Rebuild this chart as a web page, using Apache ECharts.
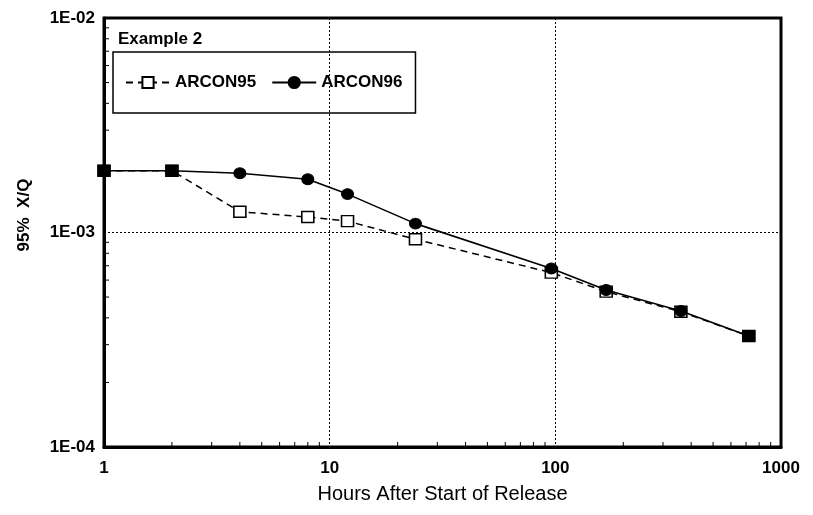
<!DOCTYPE html>
<html>
<head>
<meta charset="utf-8">
<script src="https://cdn.jsdelivr.net/npm/echarts@6/dist/echarts.min.js"></script>
<style>
html,body{margin:0;padding:0;background:#fff;}
#c{width:813px;height:515px;}
</style>
</head>
<body>
<div id="c"></div>
<script>
const hours = [1, 2, 4, 8, 12, 24, 96, 168, 360, 720];
const arcon95 = [1.94e-3, 1.94e-3, 1.25e-3, 1.18e-3, 1.13e-3, 9.3e-4, 6.5e-4, 5.3e-4, 4.27e-4, 3.29e-4];
const arcon96 = [1.94e-3, 1.94e-3, 1.89e-3, 1.77e-3, 1.51e-3, 1.10e-3, 6.8e-4, 5.39e-4, 4.31e-4, 3.29e-4];
const seriesNames = ['ARCON95', 'ARCON96'];
const xTickLabels = ['1', '10', '100', '1000'];
const yTickLabels = ['1E-04', '1E-03', '1E-02'];
const xMinorTicks = [2,3,4,5,6,7,8,9,20,30,40,50,60,70,80,90,200,300,400,500,600,700,800,900];
const yMinorTicks = [2e-4,3e-4,4e-4,5e-4,6e-4,7e-4,8e-4,9e-4,2e-3,3e-3,4e-3,5e-3,6e-3,7e-3,8e-3,9e-3];

const FONT = '"Liberation Sans", Arial, Helvetica, sans-serif';
const chart = echarts.init(document.getElementById('c'), null, {renderer: 'canvas'});

function tickRender(dir) {
  return function (params, api) {
    const p = api.coord([api.value(0), api.value(1)]);
    const shape = dir === 'x'
      ? {x1: p[0], y1: p[1], x2: p[0], y2: p[1] - 5}
      : {x1: p[0], y1: p[1], x2: p[0] + 5, y2: p[1]};
    return {type: 'line', shape: shape, style: {stroke: '#000', lineWidth: 1}};
  };
}

const option = {
  backgroundColor: '#fff',
  animation: false,
  title: {
    text: 'Example 2',
    left: 118, top: 31,
    padding: 0,
    textStyle: {fontFamily: FONT, fontWeight: 'bold', fontSize: 17, color: '#000'}
  },
  legend: {
    data: seriesNames,
    left: 113, top: 52,
    orient: 'horizontal',
    padding: [22, 13, 22, 12],
    itemWidth: 44, itemHeight: 14, itemGap: 15,
    borderColor: '#000', borderWidth: 1.5,
    textStyle: {fontFamily: FONT, fontWeight: 'bold', fontSize: 17, color: '#000'}
  },
  grid: {
    left: 104, right: 32, top: 18, bottom: 68,
    show: true, borderColor: '#000', borderWidth: 3,
    containLabel: false
  },
  graphic: [{
    type: 'text',
    x: 24, y: 215,
    rotation: Math.PI / 2,
    style: {
      text: '95%  X/Q',
      font: 'bold 17px ' + FONT,
      fill: '#000',
      align: 'center',
      verticalAlign: 'middle'
    }
  }],
  xAxis: {
    type: 'log', logBase: 10, min: 1, max: 1000,
    name: 'Hours After Start of Release',
    nameLocation: 'middle', nameGap: 37,
    nameTextStyle: {fontFamily: FONT, fontSize: 20, color: '#000'},
    axisLine: {show: true, lineStyle: {color: '#000', width: 3}},
    axisTick: {show: false},
    axisLabel: {
      margin: 13, color: '#000', fontFamily: FONT, fontSize: 17, fontWeight: 'bold',
      formatter: function (v) { return xTickLabels[Math.round(Math.log10(v))]; }
    },
    splitLine: {show: true, lineStyle: {color: '#000', width: 1, type: [2, 2]}},
    minorTick: {show: false}
  },
  yAxis: {
    type: 'log', logBase: 10, min: 1e-4, max: 1e-2,
    axisLine: {show: true, lineStyle: {color: '#000', width: 3}},
    axisTick: {show: false},
    axisLabel: {
      margin: 9, color: '#000', fontFamily: FONT, fontSize: 17, fontWeight: 'bold',
      formatter: function (v) { return yTickLabels[Math.round(Math.log10(v)) + 4]; }
    },
    splitLine: {show: true, lineStyle: {color: '#000', width: 1, type: [2, 2]}}
  },
  series: [
    {
      name: seriesNames[0],
      type: 'line',
      data: hours.map((h, i) => [h, arcon95[i]]),
      symbol: 'rect',
      symbolSize: [12, 11],
      clip: false,
      z: 3,
      lineStyle: {color: '#000', width: 1.5, type: [7, 5]},
      itemStyle: {color: '#fff', borderColor: '#000', borderWidth: 1.5}
    },
    {
      name: seriesNames[1],
      type: 'line',
      data: hours.map((h, i) => [h, arcon96[i]]),
      symbol: function (value, params) {
        return arcon95[params.dataIndex] === arcon96[params.dataIndex] ? 'rect' : 'circle';
      },
      symbolSize: [12, 11],
      clip: false,
      z: 4,
      lineStyle: {color: '#000', width: 1.6, type: 'solid'},
      itemStyle: {color: '#000', borderColor: '#000', borderWidth: 1}
    },
    {
      type: 'custom', silent: true, z: 5,
      data: xMinorTicks.map(v => [v, 1e-4]),
      renderItem: tickRender('x')
    },
    {
      type: 'custom', silent: true, z: 5,
      data: yMinorTicks.map(v => [1, v]),
      renderItem: tickRender('y')
    }
  ]
};
chart.setOption(option);
</script>
</body>
</html>
